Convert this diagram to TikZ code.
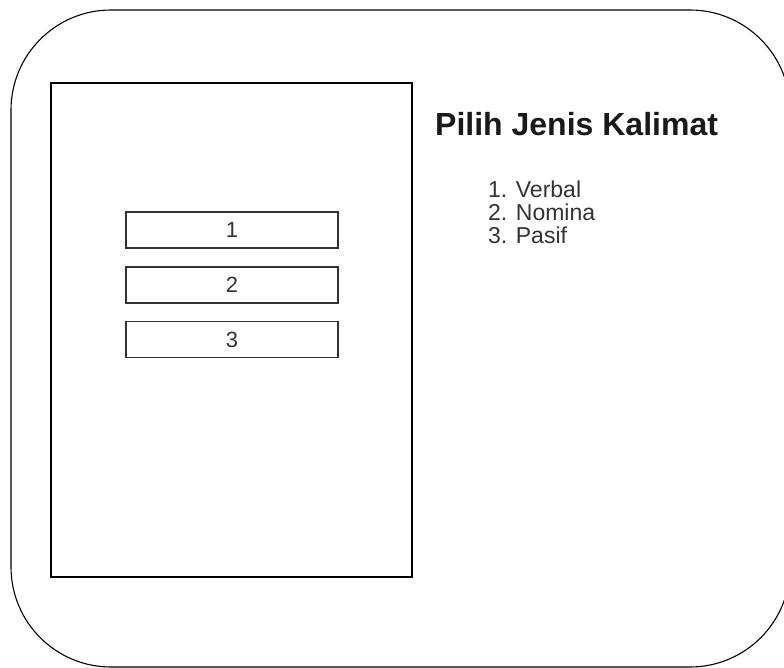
\documentclass[tikz,border=0pt]{standalone}
\usepackage{fontspec}
\setmainfont{Liberation Sans}
\definecolor{txtgray}{HTML}{333333}
\definecolor{boxgray}{HTML}{333333}
\tikzset{
  frame/.style={draw=black, line width=1.1pt, inner sep=0pt},
  btn/.style={draw=boxgray, line width=1.4pt, minimum width=212pt, minimum height=36pt, inner sep=0pt,
    font=\fontsize{22pt}{24pt}\selectfont, text=txtgray},
  listitem/.style={anchor=base west, inner sep=0pt, font=\fontsize{23pt}{25pt}\selectfont, text=txtgray},
}
\begin{document}
\begin{tikzpicture}[x=1pt,y=-1pt]
\useasboundingbox (0,0) rectangle (784,668);
\clip (0,0) rectangle (784,668);
\node[frame, rounded corners=100pt, minimum width=779pt, minimum height=657pt] (outer) at (400.5,338.5) {};
\node[frame, minimum width=361pt, minimum height=494pt] (screen) at (231.5,330) {};
\node[btn] (b1) at (232,230) {1};
\node[btn] (b2) at (232,285) {2};
\node[btn] (b3) at (232,339.5) {3};
\node[anchor=base west, inner sep=0pt, font=\bfseries\fontsize{32pt}{34pt}\selectfont, text=black!90] (title) at (435,136) {Pilih Jenis Kalimat};
\node[listitem] (l1) at (488,198) {1. Verbal};
\node[listitem] (l2) at (488,221) {2. Nomina};
\node[listitem] (l3) at (488,244) {3. Pasif};
\end{tikzpicture}
\end{document}
